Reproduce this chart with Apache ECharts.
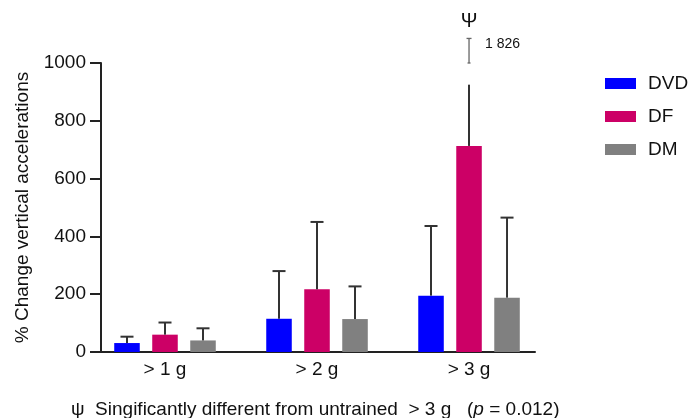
<!DOCTYPE html>
<html>
<head>
<meta charset="utf-8">
<script src="https://cdn.jsdelivr.net/npm/echarts@6/dist/echarts.min.js"></script>
<style>
  html, body { margin: 0; padding: 0; background: #fff; }
  #chart { width: 695px; height: 418px; }
</style>
</head>
<body>
<div id="chart"></div>
<script>
// Thresholds on the category axis (placed at 0, 1, 2)
const categories = ['> 1 g', '> 2 g', '> 3 g'];
const seriesNames = ['DVD', 'DF', 'DM'];

// Mean % change per threshold
const dvdMean = [31, 115, 195];
const dfMean = [60, 217, 713];
const dmMean = [40, 114, 188];

// Upper end of the error bar (mean + SD)
const dvdUpper = [53, 280, 436];
const dfUpper = [102, 450, 1826];
const dmUpper = [82, 227, 465];

// Significance markers per threshold
const dfMarks = ['', '', 'Ψ'];

// Y axis ticks
const yTicks = [0, 200, 400, 600, 800, 1000];

const colors = ['#0000FF', '#CC0066', '#808080'];
const FONT = '"Liberation Sans", Arial, sans-serif';

// Presentation of error bars that run past the top of the axis
const Y_MAX = 1000;
const BREAK_AT = 925;     // visible part of an off-scale bar stops here
const STUB_LEN = 85;      // short bracket drawn above the axis, in axis units
const GROUP_OFFSET = 0.25;
const BAR_WIDTH = 0.168;

function fmtThousands(v) {
  return String(v).replace(/\B(?=(\d{3})+(?!\d))/g, ' ');
}

function makeSeries(idx, means, uppers, marks) {
  const data = means.map((m, i) => [i, m, uppers[i], marks ? marks[i] : '']);
  const offset = (idx - 1) * GROUP_OFFSET;
  return {
    name: seriesNames[idx],
    type: 'custom',
    clip: false,
    itemStyle: { color: colors[idx] },
    data: data,
    renderItem: function (params, api) {
      const x = api.value(0) + offset;
      const mean = api.value(1);
      const upper = api.value(2);
      const mark = data[params.dataIndex][3];
      const base = api.coord([x, 0]);
      const top = api.coord([x, mean]);
      const w = api.size([BAR_WIDTH, 0])[0];
      const capHalf = 6.5;
      const children = [{
        type: 'rect',
        shape: { x: base[0] - w / 2, y: top[1], width: w, height: base[1] - top[1] },
        style: { fill: colors[idx] }
      }];
      const lineStyle = { stroke: '#333', lineWidth: 2 };
      if (upper <= Y_MAX) {
        const up = api.coord([x, upper]);
        children.push({
          type: 'line',
          shape: { x1: top[0], y1: top[1], x2: up[0], y2: up[1] },
          style: lineStyle
        });
        children.push({
          type: 'line',
          shape: { x1: up[0] - capHalf, y1: up[1], x2: up[0] + capHalf, y2: up[1] },
          style: lineStyle
        });
      } else {
        const brk = api.coord([x, BREAK_AT]);
        const s0 = api.coord([x, Y_MAX]);
        const s1 = api.coord([x, Y_MAX + STUB_LEN]);
        const thin = { stroke: '#666', lineWidth: 1.3 };
        children.push({
          type: 'line',
          shape: { x1: top[0], y1: top[1], x2: brk[0], y2: brk[1] },
          style: lineStyle
        });
        children.push({
          type: 'line',
          shape: { x1: s0[0], y1: s0[1], x2: s1[0], y2: s1[1] },
          style: thin
        });
        children.push({
          type: 'line',
          shape: { x1: s1[0] - 2.5, y1: s1[1], x2: s1[0] + 2.5, y2: s1[1] },
          style: thin
        });
        children.push({
          type: 'line',
          shape: { x1: s0[0] - 1.5, y1: s0[1], x2: s0[0] + 1.5, y2: s0[1] },
          style: thin
        });
        children.push({
          type: 'text',
          style: {
            x: s1[0] + 16, y: (s0[1] + s1[1]) / 2 - 7,
            text: fmtThousands(upper),
            fill: '#111', font: '14px ' + FONT,
            verticalAlign: 'middle', align: 'left'
          }
        });
      }
      if (mark) {
        const mp = api.coord([x, Y_MAX + STUB_LEN]);
        children.push({
          type: 'text',
          style: {
            x: mp[0], y: mp[1] - 17,
            text: mark, fill: '#111', font: '20px ' + FONT,
            align: 'center', verticalAlign: 'middle'
          }
        });
      }
      return { type: 'group', children: children };
    }
  };
}

const chart = echarts.init(document.getElementById('chart'), null, { renderer: 'canvas' });

chart.setOption({
  animation: false,
  backgroundColor: '#fff',
  textStyle: { fontFamily: FONT },
  grid: { left: 101, top: 63, width: 434, height: 289 },
  title: {
    left: 66,
    top: 395,
    text: '{a|ψ}  Singificantly different from untrained  > 3 g   ({i|p} = 0.012)',
    textStyle: {
      fontFamily: FONT, fontSize: 19, fontWeight: 'normal', color: '#111',
      rich: {
        a: { fontFamily: FONT, fontSize: 19, color: '#111' },
        i: { fontFamily: FONT, fontSize: 19, fontStyle: 'italic', color: '#111' }
      }
    }
  },
  legend: {
    orient: 'vertical',
    left: 600,
    top: 69,
    itemWidth: 31,
    itemHeight: 11,
    itemGap: 14,
    icon: 'rect',
    data: seriesNames,
    textStyle: { fontFamily: FONT, fontSize: 19, color: '#111', padding: [0, 0, 0, 7] }
  },
  xAxis: {
    type: 'value',
    min: -0.421,
    max: 2.434,
    splitLine: { show: false },
    axisTick: { show: false },
    axisLine: { show: true, onZero: false, lineStyle: { color: '#222', width: 2 } },
    axisLabel: {
      customValues: [0, 1, 2],
      formatter: function (v) { return categories[Math.round(v)]; },
      fontFamily: FONT, fontSize: 19, color: '#111', margin: 8
    }
  },
  yAxis: {
    type: 'value',
    min: yTicks[0],
    max: yTicks[yTicks.length - 1],
    interval: yTicks[1] - yTicks[0],
    name: '% Change vertical accelerations',
    nameLocation: 'middle',
    nameGap: 69,
    nameTextStyle: { fontFamily: FONT, fontSize: 19, color: '#111' },
    splitLine: { show: false },
    axisLine: { show: true, onZero: false, lineStyle: { color: '#222', width: 2 } },
    axisTick: { show: true, length: 11, lineStyle: { color: '#222', width: 2 } },
    axisLabel: {
      fontFamily: FONT, fontSize: 19, color: '#111', margin: 15,
      formatter: function (v) { return String(v); }
    }
  },
  series: [
    makeSeries(0, dvdMean, dvdUpper),
    makeSeries(1, dfMean, dfUpper, dfMarks),
    makeSeries(2, dmMean, dmUpper)
  ]
});
</script>
</body>
</html>
